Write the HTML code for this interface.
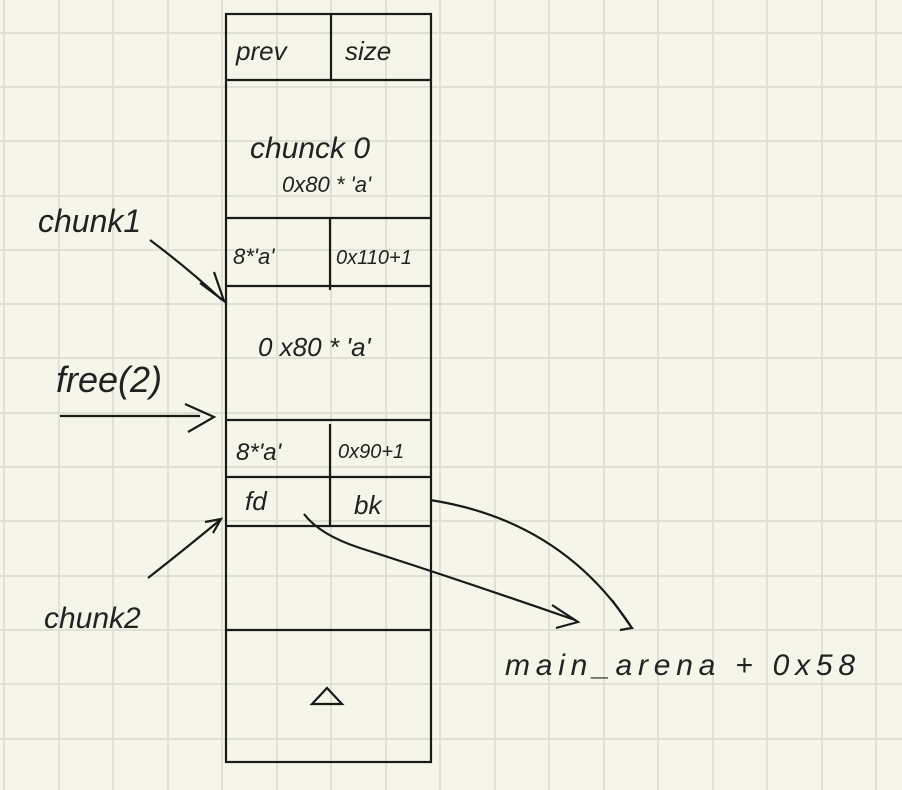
<!DOCTYPE html>
<html><head><style>
html,body{margin:0;padding:0;background:#f6f5e9;}
svg{display:block}
text{font-family:"Liberation Sans",sans-serif;fill:#222;font-style:italic;}
</style></head><body>
<svg width="902" height="790" viewBox="0 0 902 790" xmlns="http://www.w3.org/2000/svg">
<rect width="902" height="790" fill="#f6f5e9"/>
<g stroke="#e0e0d4" stroke-width="2">
<line x1="4" y1="0" x2="4" y2="790"/><line x1="59" y1="0" x2="59" y2="790"/><line x1="113" y1="0" x2="113" y2="790"/><line x1="168" y1="0" x2="168" y2="790"/><line x1="222" y1="0" x2="222" y2="790"/><line x1="277" y1="0" x2="277" y2="790"/><line x1="331" y1="0" x2="331" y2="790"/><line x1="386" y1="0" x2="386" y2="790"/><line x1="440" y1="0" x2="440" y2="790"/><line x1="495" y1="0" x2="495" y2="790"/><line x1="549" y1="0" x2="549" y2="790"/><line x1="604" y1="0" x2="604" y2="790"/><line x1="658" y1="0" x2="658" y2="790"/><line x1="713" y1="0" x2="713" y2="790"/><line x1="767" y1="0" x2="767" y2="790"/><line x1="822" y1="0" x2="822" y2="790"/><line x1="876" y1="0" x2="876" y2="790"/>
<line x1="0" y1="33" x2="902" y2="33"/><line x1="0" y1="87" x2="902" y2="87"/><line x1="0" y1="141" x2="902" y2="141"/><line x1="0" y1="196" x2="902" y2="196"/><line x1="0" y1="250" x2="902" y2="250"/><line x1="0" y1="304" x2="902" y2="304"/><line x1="0" y1="358" x2="902" y2="358"/><line x1="0" y1="413" x2="902" y2="413"/><line x1="0" y1="467" x2="902" y2="467"/><line x1="0" y1="521" x2="902" y2="521"/><line x1="0" y1="576" x2="902" y2="576"/><line x1="0" y1="630" x2="902" y2="630"/><line x1="0" y1="684" x2="902" y2="684"/><line x1="0" y1="739" x2="902" y2="739"/>
</g>
<g stroke="#1a1a1a" stroke-width="2.2" fill="none">
<rect x="226" y="14" width="205" height="748"/>
<line x1="226" y1="80" x2="431" y2="80"/>
<line x1="226" y1="218" x2="431" y2="218"/>
<line x1="226" y1="286" x2="431" y2="286"/>
<line x1="226" y1="420" x2="431" y2="420"/>
<line x1="226" y1="477" x2="431" y2="477"/>
<line x1="226" y1="526" x2="431" y2="526"/>
<line x1="226" y1="630" x2="431" y2="630"/>
<line x1="331" y1="14" x2="331" y2="80"/>
<line x1="330" y1="218" x2="330" y2="290"/>
<line x1="330" y1="424" x2="330" y2="526"/>
<polygon points="312,704 342,704 327,688"/>
<line x1="60" y1="416" x2="200" y2="416"/>
<path d="M185,404 L214,417 L188,432"/>
<path d="M150,240 Q190,270 222,300"/>
<path d="M200,283 L224,301 L214,272"/>
<path d="M148,578 Q190,545 220,520"/>
<path d="M205,522 L221,519 L213,533"/>
<path d="M304,514 Q320,535 360,548 Q460,580 575,620"/>
<path d="M552,605 L578,622 L556,628"/>
<path d="M430,500 Q560,520 630,625"/>
<path d="M612,600 L632,628 L620,630"/>
</g>
<g font-size="26">
<text x="236" y="60">prev</text>
<text x="345" y="60">size</text>
<text x="250" y="158" font-size="30">chunck 0</text>
<text x="282" y="192" font-size="22">0x80 * 'a'</text>
<text x="233" y="264" font-size="22">8*'a'</text>
<text x="336" y="264" font-size="20">0x110+1</text>
<text x="258" y="356" font-size="26">0 x80 * 'a'</text>
<text x="236" y="460" font-size="24">8*'a'</text>
<text x="338" y="458" font-size="20">0x90+1</text>
<text x="245" y="510">fd</text>
<text x="354" y="514">bk</text>
<text x="38" y="232" font-size="32">chunk1</text>
<text x="56" y="392" font-size="36">free(2)</text>
<text x="44" y="628" font-size="30">chunk2</text>
<text x="505" y="675" font-size="30" textLength="350" lengthAdjust="spacing">main_arena + 0x58</text>
</g>
</svg>
</body></html>
